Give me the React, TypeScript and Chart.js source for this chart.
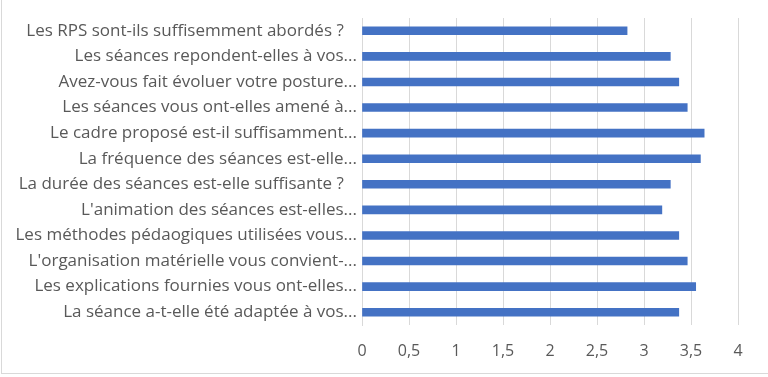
import React, { useEffect, useRef } from "react";
import { Chart, registerables } from "chart.js";
Chart.register(...registerables);

const categories: string[] = [
  "Les RPS sont-ils suffisemment abordés ?\u00A0\u00A0\u00A0",
  "Les séances repondent-elles à vos...",
  "Avez-vous fait évoluer votre posture...",
  "Les séances vous ont-elles amené à...",
  "Le cadre proposé est-il suffisamment...",
  "La fréquence des séances est-elle...",
  "La durée des séances est-elle suffisante ?\u00A0\u00A0\u00A0",
  "L'animation des séances est-elles...",
  "Les méthodes pédaogiques utilisées vous...",
  "L'organisation matérielle vous convient-...",
  "Les explications fournies vous ont-elles...",
  "La séance a-t-elle été adaptée à vos...",
];
const values: number[] = [2.82, 3.28, 3.37, 3.46, 3.64, 3.6, 3.28, 3.19, 3.37, 3.46, 3.55, 3.37];
const xTickLabels: string[] = ["0", "0,5", "1", "1,5", "2", "2,5", "3", "3,5", "4"];

const FONT = "'Open Sans'";
const TEXT = "#595959";

export default function App() {
  const ref = useRef<HTMLCanvasElement | null>(null);
  useEffect(() => {
    document.body.style.margin = "0";
    const chart = new Chart(ref.current as HTMLCanvasElement, {
      type: "bar",
      data: {
        labels: categories,
        datasets: [
          {
            data: values,
            backgroundColor: "#4472C4",
            barThickness: 8,
          },
        ],
      },
      options: {
        indexAxis: "y",
        animation: false,
        responsive: true,
        maintainAspectRatio: false,
        layout: { padding: { top: 18, right: 30, bottom: 0, left: 0 } },
        plugins: { legend: { display: false }, tooltip: { enabled: false } },
        scales: {
          x: {
            min: 0,
            max: 4,
            ticks: {
              stepSize: 0.5,
              padding: 17,
              color: TEXT,
              font: { family: FONT, size: 16 },
              callback: (_v: any, i: number) => xTickLabels[i],
            },
            grid: { color: "#d9d9d9", drawTicks: false, lineWidth: 1 },
            border: { display: false },
            afterFit: (s: any) => {
              s.height = 52;
            },
          },
          y: {
            ticks: {
              padding: -3,
              color: TEXT,
              font: { family: FONT, size: 17 },
              autoSkip: false,
            },
            grid: { display: false },
            border: { display: true, color: "#d9d9d9" },
            afterFit: (s: any) => {
              s.width = 362;
            },
          },
        },
      },
    });
    return () => chart.destroy();
  }, []);
  return (
    <div style={{ position: "fixed", left: 0, top: 0, width: 768, height: 377, background: "#fff" }}>
      <canvas ref={ref} />
      <div
        style={{
          position: "absolute",
          left: 1,
          top: -2,
          width: 770,
          height: 376,
          border: "1px solid #d9d9d9",
          boxSizing: "border-box",
          pointerEvents: "none",
        }}
      />
    </div>
  );
}
